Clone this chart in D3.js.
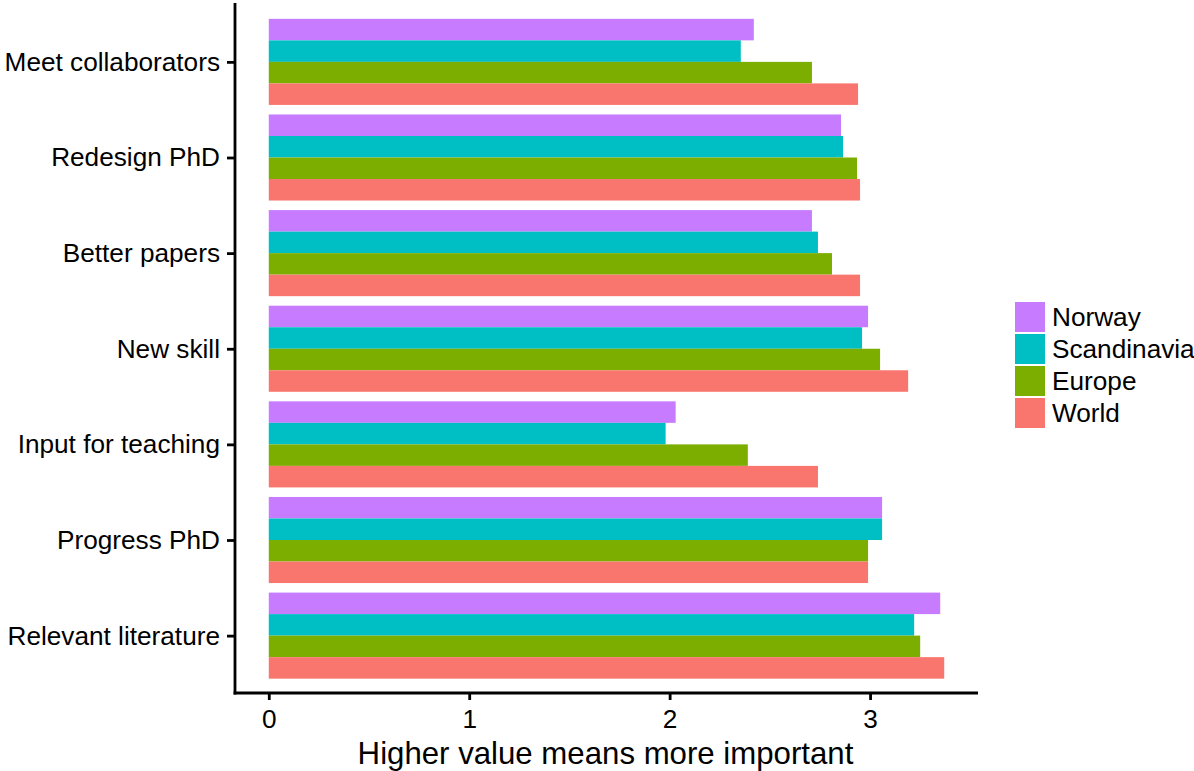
<!DOCTYPE html>
<html>
<head>
<meta charset="utf-8">
<script src="https://cdn.jsdelivr.net/npm/d3@7"></script>
<style>
  html, body { margin: 0; padding: 0; background: #fff; }
  svg { display: block; }
  text { font-family: "Liberation Sans", Arial, sans-serif; }
</style>
</head>
<body>
<svg id="chart" width="1194" height="771"></svg>
<script>
const categories = ["Meet collaborators", "Redesign PhD", "Better papers", "New skill",
                    "Input for teaching", "Progress PhD", "Relevant literature"];
const seriesNames = ["Norway", "Scandinavia", "Europe", "World"];
const seriesColors = ["#C77CFF", "#00BFC4", "#7CAE00", "#F8766D"];
const norway      = [2.42, 2.855, 2.71, 2.99, 2.03, 3.06, 3.35];
const scandinavia = [2.355, 2.865, 2.74, 2.96, 1.98, 3.06, 3.22];
const europe      = [2.71, 2.935, 2.81, 3.05, 2.39, 2.99, 3.25];
const world       = [2.94, 2.95, 2.95, 3.19, 2.74, 2.99, 3.37];
const xTicks = [0, 1, 2, 3];
const xTitle = "Higher value means more important";

(function () {
const seriesValues = [norway, scandinavia, europe, world];

const svg = d3.select("#chart");
const pLeft = 235, pRight = 978, pTop = 4.5, pBottom = 693;
const labelSize = 26.2, titleSize = 31.2;

const maxV = d3.max(seriesValues.flat());
const span = maxV - 0;
const x = d3.scaleLinear()
  .domain([0 - 0.05 * span, maxV + 0.05 * span])
  .range([pLeft, pRight]);

const y = d3.scalePoint()
  .domain(categories)
  .range([pTop, pBottom])
  .padding(0.6);
const step = y.step();

const inner = d3.scaleBand()
  .domain(seriesNames)
  .range([-0.45 * step, 0.45 * step])
  .padding(0);

const color = d3.scaleOrdinal().domain(seriesNames).range(seriesColors);

const data = [];
categories.forEach((c, i) => {
  seriesNames.forEach((s, j) => {
    data.push({ cat: c, series: s, value: seriesValues[j][i] });
  });
});

svg.append("g").selectAll("rect")
  .data(data)
  .join("rect")
  .attr("x", d => x(Math.min(0, d.value)))
  .attr("y", d => y(d.cat) + inner(d.series))
  .attr("width", d => Math.abs(x(d.value) - x(0)))
  .attr("height", inner.bandwidth())
  .attr("fill", d => color(d.series));

// x axis
const xAxis = d3.axisBottom(x).tickValues(xTicks).tickSize(7).tickPadding(6)
  .tickFormat(d3.format("d"));
const gx = svg.append("g").attr("transform", `translate(0,${pBottom})`).call(xAxis);
gx.select(".domain").remove();
gx.selectAll(".tick line").attr("stroke", "#000").attr("stroke-width", 2.8);
gx.selectAll(".tick text").attr("font-size", labelSize).attr("fill", "#000")
  .attr("dy", null).attr("y", 34.5);

// y axis
const yAxis = d3.axisLeft(y).tickSize(8).tickPadding(7);
const gy = svg.append("g").attr("transform", `translate(${pLeft},0)`).call(yAxis);
gy.select(".domain").remove();
gy.selectAll(".tick line").attr("stroke", "#000").attr("stroke-width", 2.8);
gy.selectAll(".tick text").attr("font-size", labelSize).attr("fill", "#000");

// axis lines
svg.append("line").attr("x1", pLeft).attr("x2", pLeft).attr("y1", 3).attr("y2", pBottom + 1.4)
  .attr("stroke", "#000").attr("stroke-width", 2.8);
svg.append("line").attr("x1", pLeft - 1.4).attr("x2", pRight).attr("y1", pBottom).attr("y2", pBottom)
  .attr("stroke", "#000").attr("stroke-width", 2.8);

// x title
svg.append("text")
  .attr("x", (pLeft + pRight) / 2 - 1)
  .attr("y", 764)
  .attr("text-anchor", "middle")
  .attr("font-size", titleSize)
  .attr("fill", "#000")
  .text(xTitle);

// legend
const legend = svg.append("g").attr("transform", "translate(1015,302)");
const li = legend.selectAll("g").data(seriesNames).join("g")
  .attr("transform", (d, i) => `translate(0,${i * 32})`);
li.append("rect").attr("width", 30).attr("height", 30).attr("fill", d => color(d));
li.append("text").attr("x", 37).attr("y", 15).attr("dy", "0.35em")
  .attr("font-size", labelSize).attr("fill", "#000").text(d => d);
})();
</script>
</body>
</html>
